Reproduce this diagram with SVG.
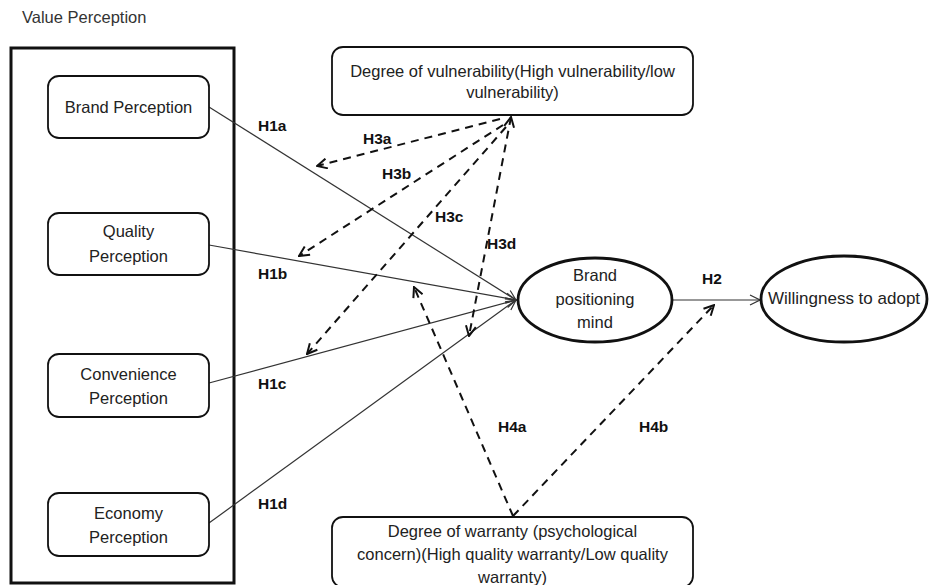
<svg xmlns="http://www.w3.org/2000/svg" width="929" height="585" viewBox="0 0 929 585">
<style>
text{font-family:"Liberation Sans",Arial,sans-serif;fill:#222;}
.t{font-size:16.5px;text-anchor:middle;}
.lbl{font-size:15.5px;font-weight:bold;fill:#111;}
.box{fill:#fff;stroke:#111;stroke-width:1.8;}
.ell{fill:#fff;stroke:#111;stroke-width:2.8;}
.solid{stroke:#333;stroke-width:1.2;fill:none;}
.dash{stroke:#111;stroke-width:2;stroke-dasharray:8,6;fill:none;}
</style>
<defs>
<marker id="ah" viewBox="0 0 12 12" refX="11" refY="6" markerWidth="12" markerHeight="12" markerUnits="userSpaceOnUse" orient="auto">
<path d="M1,1 L11,6 L1,11" fill="none" stroke="#333" stroke-width="1.2"/>
</marker>
<marker id="ad" viewBox="0 0 12 12" refX="11" refY="6" markerWidth="12" markerHeight="12" markerUnits="userSpaceOnUse" orient="auto">
<path d="M1,1 L11,6 L1,11" fill="none" stroke="#111" stroke-width="2"/>
</marker>
<marker id="ads" viewBox="0 0 12 12" refX="1" refY="6" markerWidth="12" markerHeight="12" markerUnits="userSpaceOnUse" orient="auto">
<path d="M11,1 L1,6 L11,11" fill="none" stroke="#111" stroke-width="2"/>
</marker>
</defs>
<text x="22" y="23" style="font-size:16.5px;fill:#333">Value Perception</text>
<g id="value-perception">
<rect x="11" y="48" width="223" height="535" fill="none" stroke="#111" stroke-width="3"/>
</g>
<g id="connectors">
<line class="solid" x1="209" y1="107" x2="516" y2="300" marker-end="url(#ah)"/>
<line class="solid" x1="209" y1="245" x2="516" y2="300" marker-end="url(#ah)"/>
<line class="solid" x1="209" y1="383" x2="516" y2="300" marker-end="url(#ah)"/>
<line class="solid" x1="209" y1="523" x2="516" y2="300" marker-end="url(#ah)"/>
<line class="solid" x1="673" y1="300" x2="760" y2="300" marker-end="url(#ah)"/>
<line class="dash" x1="500" y1="119" x2="317" y2="166" marker-end="url(#ad)"/>
<line class="dash" x1="503" y1="125" x2="299" y2="256" marker-end="url(#ad)"/>
<line class="dash" x1="506" y1="127" x2="307" y2="354" marker-end="url(#ad)"/>
<line class="dash" x1="511" y1="117" x2="469" y2="336" marker-end="url(#ad)" marker-start="url(#ads)"/>
<line class="dash" x1="513" y1="516" x2="414" y2="287" marker-end="url(#ad)"/>
<line class="dash" x1="513" y1="516" x2="714" y2="305" marker-end="url(#ad)"/>
</g>
<g id="labels">
<text class="lbl" x="258" y="131">H1a</text>
<text class="lbl" x="258" y="279">H1b</text>
<text class="lbl" x="258" y="389">H1c</text>
<text class="lbl" x="258" y="509">H1d</text>
<text class="lbl" x="363" y="144">H3a</text>
<text class="lbl" x="382" y="179">H3b</text>
<text class="lbl" x="435" y="222">H3c</text>
<text class="lbl" x="487" y="249">H3d</text>
<text class="lbl" x="702" y="284">H2</text>
<text class="lbl" x="498" y="432">H4a</text>
<text class="lbl" x="639" y="432">H4b</text>
</g>
<g id="brand-perception">
<rect class="box" x="48" y="76" width="161" height="62" rx="11"/>
<text class="t" x="128.5" y="113">Brand Perception</text>
</g>
<g id="quality-perception">
<rect class="box" x="48" y="213" width="161" height="62" rx="11"/>
<text class="t" x="128.5" y="237">Quality</text>
<text class="t" x="128.5" y="262">Perception</text>
</g>
<g id="convenience-perception">
<rect class="box" x="48" y="354" width="161" height="63" rx="11"/>
<text class="t" x="128.5" y="380">Convenience</text>
<text class="t" x="128.5" y="404">Perception</text>
</g>
<g id="economy-perception">
<rect class="box" x="48" y="493" width="161" height="63" rx="11"/>
<text class="t" x="128.5" y="519">Economy</text>
<text class="t" x="128.5" y="543">Perception</text>
</g>
<g id="vulnerability">
<rect class="box" x="332" y="47" width="361" height="68" rx="11"/>
<text class="t" x="512.5" y="77">Degree of vulnerability(High vulnerability/low</text>
<text class="t" x="512.5" y="98">vulnerability)</text>
</g>
<g id="warranty">
<rect class="box" x="332" y="517" width="361" height="70" rx="11"/>
<text class="t" x="512.5" y="537">Degree of warranty (psychological</text>
<text class="t" x="512.5" y="560">concern)(High quality warranty/Low quality</text>
<text class="t" x="512.5" y="583">warranty)</text>
</g>
<g id="brand-positioning">
<ellipse class="ell" cx="595" cy="300" rx="77" ry="42"/>
<text class="t" x="595" y="281">Brand</text>
<text class="t" x="595" y="305">positioning</text>
<text class="t" x="595" y="328">mind</text>
</g>
<g id="willingness">
<ellipse class="ell" cx="844" cy="299" rx="83" ry="43"/>
<text class="t" x="844" y="304" style="font-size:17px">Willingness to adopt</text>
</g>
</svg>
